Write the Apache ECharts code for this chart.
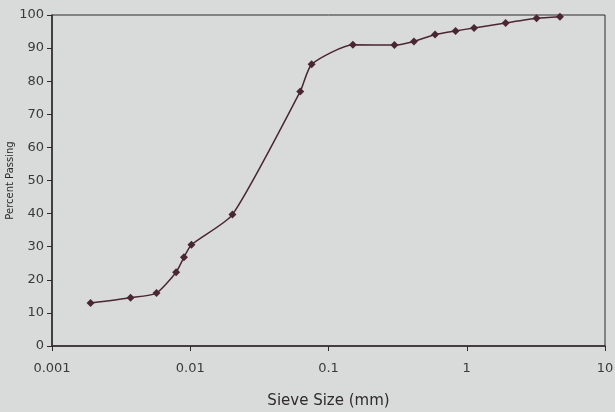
<!DOCTYPE html>
<html>
<head>
<meta charset="utf-8">
<script src="https://cdn.jsdelivr.net/npm/echarts@6/dist/echarts.min.js"></script>
<style>
  html, body { margin: 0; padding: 0; background: #d8dbd9; }
  #chart { width: 615px; height: 412px; }
</style>
</head>
<body>
<div id="chart"></div>
<script>
// grain size distribution
var sieveSize = [0.0019, 0.0037, 0.0057, 0.0079, 0.009, 0.0102, 0.0202, 0.0625, 0.0755,
                 0.15, 0.3, 0.415, 0.59, 0.83, 1.13, 1.91, 3.2, 4.72];
var percentPassing = [13.0, 14.6, 16.0, 22.3, 26.8, 30.6, 39.7, 76.9, 85.1,
                      91.0, 90.9, 92.0, 94.1, 95.2, 96.1, 97.6, 99.0, 99.5];
var xTicks = [0.001, 0.01, 0.1, 1, 10];

var points = [];
for (var i = 0; i < sieveSize.length; i++) {
    points.push([sieveSize[i], percentPassing[i]]);
}

var ink = '#2f2a2c';
var chart = echarts.init(document.getElementById('chart'));
chart.setOption({
    backgroundColor: '#d8dbd9',
    textStyle: { fontFamily: 'DejaVu Sans' },
    grid: {
        left: 52, right: 10, top: 15, bottom: 66,
        outerBoundsMode: 'none',
        containLabel: false,
        show: true, borderColor: ink, borderWidth: 1,
        backgroundColor: 'transparent'
    },
    xAxis: {
        type: 'log',
        logBase: 10,
        min: 0.001,
        max: 10,
        name: 'Sieve Size (mm)',
        nameLocation: 'middle',
        nameGap: 48,
        nameMoveOverlap: false,
        nameTextStyle: { color: ink, fontSize: 15 },
        axisLine: { lineStyle: { color: ink, width: 1.5 } },
        axisTick: { show: true, length: 5, lineStyle: { color: ink } },
        splitLine: { show: false },
        minorTick: { show: false },
        axisLabel: {
            color: '#3a3a3a', fontSize: 13, margin: 16,
            formatter: function (v) {
                for (var k = 0; k < xTicks.length; k++) {
                    if (Math.abs(v - xTicks[k]) < xTicks[k] * 1e-6) return String(xTicks[k]);
                }
                return '';
            }
        }
    },
    yAxis: {
        type: 'value',
        min: 0,
        max: 100,
        interval: 10,
        name: 'Percent Passing',
        nameLocation: 'middle',
        nameGap: 37,
        nameMoveOverlap: false,
        nameTextStyle: { color: ink, fontSize: 10 },
        axisLine: { show: true, lineStyle: { color: ink, width: 1.5 } },
        axisTick: { show: true, length: 5, lineStyle: { color: ink } },
        splitLine: { show: false },
        axisLabel: { color: '#3a3a3a', fontSize: 13, margin: 8 }
    },
    series: [{
        type: 'line',
        data: points,
        smooth: 0.2,
        symbol: 'diamond',
        symbolSize: 8,
        lineStyle: { color: '#4a2633', width: 1.5 },
        itemStyle: { color: '#4a2633' },
        animation: false
    }]
});
</script>
</body>
</html>
